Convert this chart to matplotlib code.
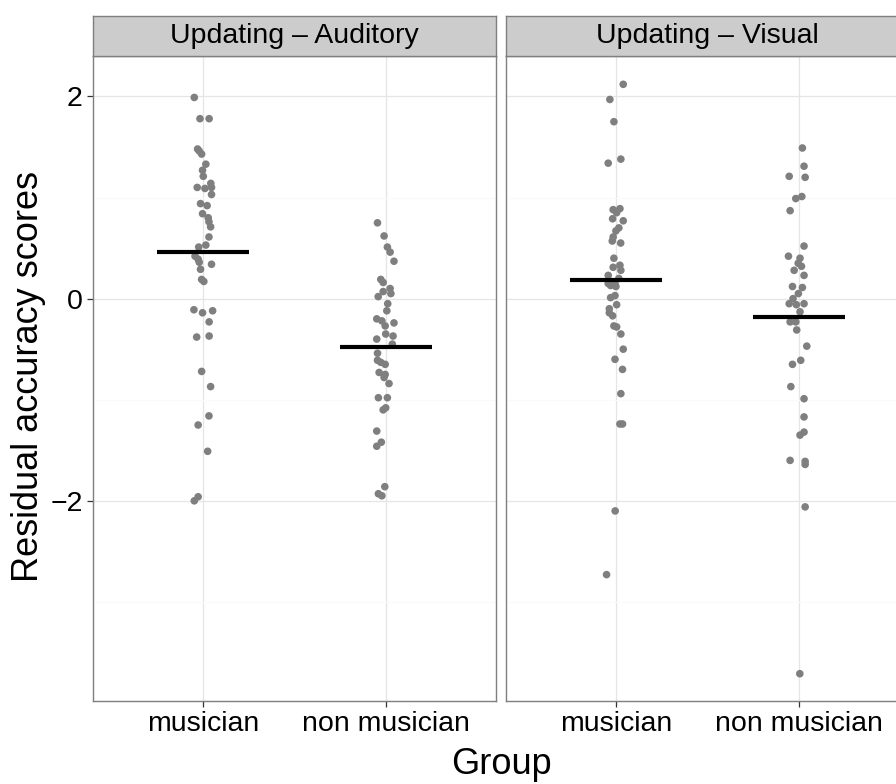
import numpy as np
import matplotlib.pyplot as plt

# facettes et groupes
panels = ['Updating – Auditory', 'Updating – Visual']
groups = ['musician', 'non musician']

# scores residuels (y) et decalage horizontal du jitter (dx)
aud_mus_y = [1.99, 1.78, 1.78, 1.48, 1.46, 1.43, 1.33, 1.27, 1.21, 1.10, 1.09, 1.14, 1.10,
             1.03, 0.94, 0.92, 0.84, 0.80, 0.76, 0.71, 0.61, 0.53, 0.51, 0.42, 0.39, 0.36,
             0.34, 0.29, 0.19, 0.17, -0.11, -0.14, -0.12, -0.23, -0.38, -0.37, -0.72, -0.87,
             -1.16, -1.25, -1.51, -1.96, -2.00]
aud_mus_dx = [-0.047, -0.016, 0.034, -0.029, -0.020, -0.007, 0.016, -0.002, 0.002, -0.031,
              0.011, 0.043, 0.047, 0.047, -0.013, 0.023, -0.002, 0.029, 0.033, 0.042, 0.033,
              0.016, -0.023, -0.043, -0.026, -0.020, 0.047, -0.013, -0.007, 0.005, -0.049,
              -0.002, 0.053, 0.034, -0.034, 0.034, -0.007, 0.042, 0.033, -0.026, 0.026,
              -0.026, -0.047]

aud_non_y = [0.75, 0.62, 0.51, 0.46, 0.37, 0.19, 0.16, 0.10, 0.07, 0.05, 0.02, -0.05, -0.12,
             -0.20, -0.22, -0.27, -0.24, -0.35, -0.37, -0.40, -0.45, -0.54, -0.61, -0.63,
             -0.65, -0.73, -0.75, -0.78, -0.84, -0.98, -0.98, -1.08, -1.10, -1.31, -1.42,
             -1.46, -1.86, -1.93, -1.95]
aud_non_dx = [-0.047, -0.011, 0.007, 0.022, 0.043, -0.029, -0.016, 0.022, -0.016, 0.026,
              -0.043, 0.009, 0.004, -0.051, -0.023, -0.005, 0.043, -0.002, 0.038, -0.051,
              0.034, -0.047, -0.047, -0.029, -0.005, -0.038, -0.005, -0.011, 0.016, -0.042,
              0.007, -0.002, -0.016, -0.051, -0.026, -0.051, -0.007, -0.042, -0.023]

vis_mus_y = [2.12, 1.97, 1.75, 1.34, 1.38, 0.88, 0.89, 0.85, 0.79, 0.77, 0.70, 0.67, 0.61,
             0.57, 0.55, 0.40, 0.31, 0.33, 0.28, 0.23, 0.20, 0.15, 0.15, 0.13, 0.12, 0.01,
             0.03, -0.06, -0.10, -0.14, -0.17, -0.27, -0.28, -0.35, -0.50, -0.60, -0.70,
             -0.94, -1.24, -1.24, -2.10, -2.73]
vis_mus_dx = [0.040, -0.033, -0.011, -0.042, 0.027, -0.015, 0.022, 0.004, -0.018, 0.040,
              0.016, 0.000, -0.015, -0.020, 0.026, -0.011, -0.015, 0.022, 0.027, -0.042,
              0.016, -0.042, -0.005, -0.029, 0.000, -0.029, -0.005, 0.004, -0.036, -0.036,
              -0.018, -0.011, 0.004, 0.027, 0.040, -0.005, 0.036, 0.027, 0.022, 0.036,
              -0.004, -0.051]

vis_non_y = [1.49, 1.31, 1.21, 1.20, 1.01, 0.99, 0.87, 0.52, 0.42, 0.40, 0.35, 0.32, 0.28,
             0.23, 0.12, 0.11, 0.05, 0.00, -0.05, -0.05, -0.06, -0.13, -0.23, -0.23, -0.31,
             -0.47, -0.65, -0.61, -0.87, -0.99, -1.17, -1.35, -1.32, -1.60, -1.61, -1.64,
             -2.06, -3.71]
vis_non_dx = [0.018, 0.027, -0.054, 0.033, 0.015, -0.018, -0.049, 0.027, -0.058, 0.005,
              -0.005, 0.013, -0.027, 0.027, -0.036, 0.018, -0.004, -0.033, -0.054, 0.027,
              -0.015, 0.005, -0.049, -0.018, -0.013, 0.042, -0.036, 0.009, -0.045, 0.027,
              0.027, 0.005, 0.027, -0.049, 0.033, 0.033, 0.033, 0.004]

# moyennes (traits noirs)
aud_means = [0.46, -0.48]
vis_means = [0.18, -0.18]

data = {
    panels[0]: [(aud_mus_y, aud_mus_dx), (aud_non_y, aud_non_dx)],
    panels[1]: [(vis_mus_y, vis_mus_dx), (vis_non_y, vis_non_dx)],
}
means = {panels[0]: aud_means, panels[1]: vis_means}

plt.rcParams['font.family'] = ['Liberation Sans', 'DejaVu Sans']

W, H = 896, 784
fig = plt.figure(figsize=(W / 100, H / 100), dpi=100)


def box(x0, y0, x1, y1):
    return [x0 / W, 1 - y1 / H, (x1 - x0) / W, (y1 - y0) / H]


panel_px = [(93, 496), (506, 909)]
border = '#7F7F7F'

for k, name in enumerate(panels):
    x0, x1 = panel_px[k]
    ax = fig.add_axes(box(x0, 56, x1, 701))
    ax.set_xlim(-0.6, 1.6)
    ax.set_ylim(-3.98, 2.40)
    ax.set_axisbelow(True)
    ax.set_yticks([-2, 0, 2])
    ax.set_yticks([-3, -1, 1], minor=True)
    ax.set_xticks([0, 1])
    ax.set_xticklabels(groups)
    ax.grid(which='major', color='#E5E5E5', lw=0.9)
    ax.grid(which='minor', axis='y', color='#FAFAFA', lw=0.9)
    ax.tick_params(which='minor', length=0)
    ax.tick_params(which='major', length=4.5, width=0.9, color='#333333',
                   labelsize=20.5, pad=3, labelcolor='black')
    if k > 0:
        ax.tick_params(axis='y', which='major', length=0, labelleft=False)
    for s in ax.spines.values():
        s.set_color(border)
        s.set_linewidth(1.0)

    for i, (yy, dx) in enumerate(data[name]):
        ax.scatter(i + np.array(dx), yy, s=30, color='#7F7F7F', edgecolors='none', zorder=3)
        ax.hlines(means[name][i], i - 0.25, i + 0.25, color='black', lw=3, zorder=4)

    # bandeau de facette
    st = fig.add_axes(box(x0, 16, x1, 56))
    st.set_facecolor('#CCCCCC')
    st.set_xticks([])
    st.set_yticks([])
    for s in st.spines.values():
        s.set_color(border)
        s.set_linewidth(1.0)
    st.text(0.5, 0.5, name, ha='center', va='center', fontsize=20.5,
            transform=st.transAxes)

fig.text(29 / W, 1 - 377 / H, 'Residual accuracy scores', rotation=90,
         ha='center', va='center', fontsize=26)
fig.text(501 / W, 1 - 764 / H, 'Group', ha='center', va='center', fontsize=26)

fig.savefig('out.png', dpi=100)
